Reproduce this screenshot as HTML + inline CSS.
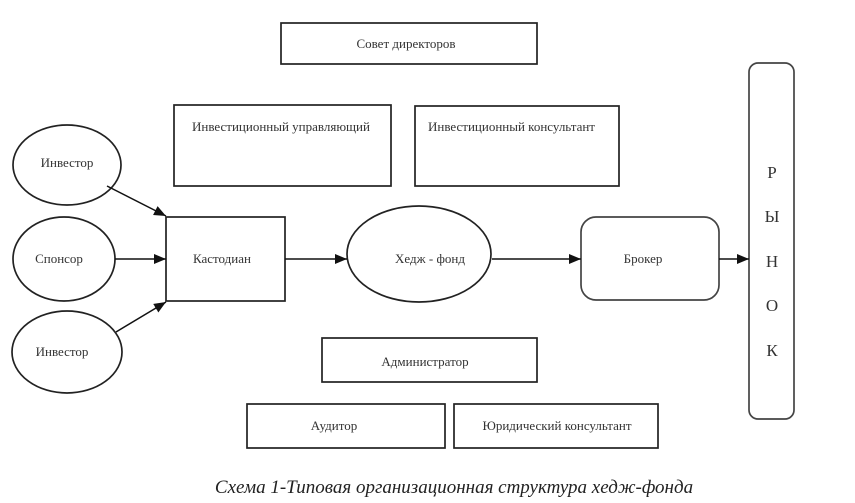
<!DOCTYPE html>
<html><head><meta charset="utf-8"><style>
html,body{margin:0;padding:0;background:#fff;}
svg{display:block;}
text{font-family:"Liberation Serif","DejaVu Serif",serif;font-size:13px;fill:#333;}
</style></head><body>
<svg width="855" height="503" viewBox="0 0 855 503" xmlns="http://www.w3.org/2000/svg">
<defs>
<marker id="a" markerWidth="12" markerHeight="10" refX="12" refY="5" orient="auto" markerUnits="userSpaceOnUse">
<path d="M0,0 L12,5 L0,10 Z" fill="#111"/></marker>
</defs>
<g fill="none" stroke="#222" stroke-width="1.7">
<rect x="281" y="23" width="256" height="41"/>
<rect x="174" y="105" width="217" height="81"/>
<rect x="415" y="106" width="204" height="80"/>
<ellipse cx="67" cy="165" rx="54" ry="40"/>
<ellipse cx="64" cy="259" rx="51" ry="42"/>
<ellipse cx="67" cy="352" rx="55" ry="41"/>
<rect x="166" y="217" width="119" height="84"/>
<ellipse cx="419" cy="254" rx="72" ry="48"/>
<rect x="581" y="217" width="138" height="83" rx="15" stroke="#444"/>
<rect x="749" y="63" width="45" height="356" rx="9" stroke="#444"/>
<rect x="322" y="338" width="215" height="44"/>
<rect x="247" y="404" width="198" height="44"/>
<rect x="454" y="404" width="204" height="44"/>
</g>
<g stroke="#111" stroke-width="1.5" marker-end="url(#a)">
<line x1="107" y1="186" x2="166" y2="216"/>
<line x1="115" y1="259" x2="166" y2="259"/>
<line x1="116" y1="332" x2="166" y2="302"/>
<line x1="285" y1="259" x2="347" y2="259"/>
<line x1="492" y1="259" x2="581" y2="259"/>
<line x1="719" y1="259" x2="749" y2="259"/>
</g>
<text x="406" y="48" text-anchor="middle">Совет директоров</text>
<text x="192" y="131">Инвестиционный управляющий</text>
<text x="428" y="131">Инвестиционный консультант</text>
<text x="67" y="167" text-anchor="middle">Инвестор</text>
<text x="59" y="263" text-anchor="middle">Спонсор</text>
<text x="62" y="356" text-anchor="middle">Инвестор</text>
<text x="222" y="263" text-anchor="middle">Кастодиан</text>
<text x="430" y="263" text-anchor="middle">Хедж - фонд</text>
<text x="643" y="263" text-anchor="middle">Брокер</text>
<text x="425" y="366" text-anchor="middle">Администратор</text>
<text x="334" y="430" text-anchor="middle">Аудитор</text>
<text x="557" y="430" text-anchor="middle">Юридический консультант</text>
<g text-anchor="middle">
<text x="772" y="178" style="font-size:17px">Р</text>
<text x="772" y="222" style="font-size:17px">Ы</text>
<text x="772" y="267" style="font-size:17px">Н</text>
<text x="772" y="311" style="font-size:17px">О</text>
<text x="772" y="356" style="font-size:17px">К</text>
</g>
<text x="454" y="493" text-anchor="middle" style="font-size:19px;font-style:italic;fill:#222">Схема 1-Типовая организационная структура хедж-фонда</text>
</svg>
</body></html>
